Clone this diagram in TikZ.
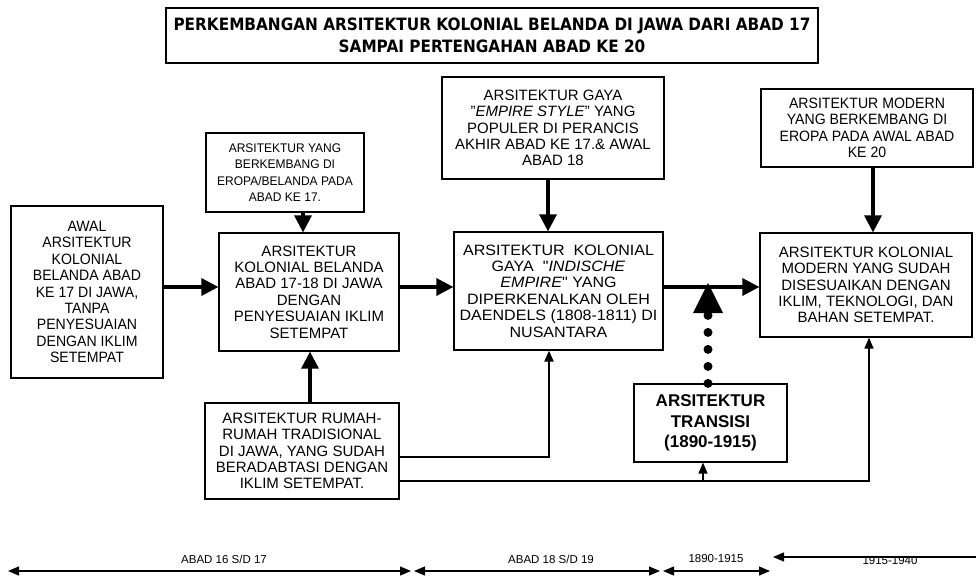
\documentclass[tikz,border=0pt]{standalone}
\usepackage{fontspec}
\setmainfont{Liberation Sans}
\newfontfamily\titlefont[FakeStretch=0.9]{DejaVu Sans}
\newfontfamily\narrowface[FakeStretch=0.94]{Liberation Sans}
\newfontfamily\slimface[FakeStretch=0.96]{Liberation Sans}
\newfontfamily\wideface[FakeStretch=1.07]{Liberation Sans}
\usepackage{tikz}
\usetikzlibrary{arrows.meta, calc, positioning}
\providecommand{\boxfont}{\fontsize{15}{16.4}\selectfont}
\providecommand{\tickfont}{\fontsize{11.5}{13}\selectfont}
\tikzset{
  box/.style={draw, line width=1.2pt, align=center, inner sep=0pt, font=\boxfont},
  flow/.style={line width=3.2pt, -{Triangle[length=17pt, width=17pt]}},
  feed/.style={line width=1.3pt, -{Triangle[length=11pt, width=9pt]}},
  dots/.style={line width=9pt, line cap=round, dash pattern=on 0pt off 17pt,
    -{Triangle[length=30pt, width=30pt, line width=0pt]}},
  span/.style={line width=1.2pt},
  endtip/.tip={Triangle[length=11pt, width=9pt]}
}

\begin{document}
\begin{tikzpicture}[x=1pt, y=-1pt]
	\useasboundingbox (0,0) rectangle (976,576);

	% title
	\node[box, minimum width=652, minimum height=55, font=\titlefont\bfseries\fontsize{17}{22}\selectfont]
		(title) at (492,35.5) {PERKEMBANGAN ARSITEKTUR KOLONIAL BELANDA DI JAWA DARI ABAD 17\\SAMPAI PERTENGAHAN ABAD KE 20};

	% boxes
	\node[box, minimum width=152, minimum height=172, font=\narrowface\boxfont] (A) at (87,292)
		{AWAL\\ARSITEKTUR\\KOLONIAL\\BELANDA ABAD\\KE 17 DI JAWA,\\TANPA\\PENYESUAIAN\\DENGAN IKLIM\\SETEMPAT};
	\node[box, minimum width=158, minimum height=79, font=\slimface\fontsize{12.5}{16.5}\selectfont] (Bt) at (285,172.5)
		{ARSITEKTUR YANG\\BERKEMBANG DI\\EROPA/BELANDA PADA\\ABAD KE 17.};
	\node[box, minimum width=180, minimum height=118] (B) at (309,292)
		{ARSITEKTUR\\KOLONIAL BELANDA\\ABAD 17-18 DI JAWA\\DENGAN\\PENYESUAIAN IKLIM\\SETEMPAT};
	\node[box, minimum width=194, minimum height=96] (D) at (302,451)
		{ARSITEKTUR RUMAH-\\RUMAH TRADISIONAL\\DI JAWA, YANG SUDAH\\BERADABTASI DENGAN\\IKLIM SETEMPAT.};
	\node[box, minimum width=222, minimum height=102] (Ct) at (553,128)
		{ARSITEKTUR GAYA\\"\textit{EMPIRE STYLE}" YANG\\POPULER DI PERANCIS\\AKHIR ABAD KE 17.\& AWAL\\ABAD 18};
	\node[box, minimum width=209, minimum height=118, font=\wideface\boxfont] (C) at (558.5,291)
		{ARSITEKTUR\ \ KOLONIAL\\GAYA\ \ "\textit{INDISCHE}\\\textit{EMPIRE}" YANG\\DIPERKENALKAN OLEH\\DAENDELS (1808-1811) DI\\NUSANTARA};
	\node[box, minimum width=212, minimum height=78, font=\narrowface\boxfont] (Et) at (867,128)
		{ARSITEKTUR MODERN\\YANG BERKEMBANG DI\\EROPA PADA AWAL ABAD\\KE 20};
	\node[box, minimum width=212, minimum height=104] (E) at (866,285)
		{ARSITEKTUR KOLONIAL\\MODERN YANG SUDAH\\DISESUAIKAN DENGAN\\IKLIM, TEKNOLOGI, DAN\\BAHAN SETEMPAT.};
	\node[box, minimum width=153, minimum height=78, font=\bfseries\fontsize{17}{20.5}\selectfont] (T) at (710.5,423)
		{ARSITEKTUR\\TRANSISI\\(1890-1915)};

	% main flow
	\draw[flow] ($(A.east)+(0,-5)$) -- ($(B.west)+(0,-5)$);
	\draw[flow] ($(B.east)+(0,-5)$) -- ($(C.west)+(0,-4)$);
	\draw[flow] ($(C.east)+(0,-4)$) -- ($(E.west)+(0,2)$);

	\draw[flow] ($(Bt.south)+(18,0)$) -- ($(B.north)+(-6,0)$);
	\draw[flow] ($(Ct.south)+(-5,0)$) -- ($(C.north)+(-10.5,0)$);
	\draw[flow] ($(Et.south)+(6,0)$) -- ($(E.north)+(7,0)$);
	\draw[flow] ($(D.north)+(8,0)$) -- ($(B.south)+(1,0)$);

	% links from the traditional houses
	\coordinate (low) at ($(D.east)+(0,30)$);
	\coordinate (tt) at ($(T.south)+(-7.5,0)$);
	\draw[feed, line width=2.2pt] ($(D.east)+(0,6)$) -| ($(C.south)+(-9.5,0)$);
	\draw[feed] (low) -| ($(E.south)+(3,0)$);
	\draw[feed] (tt |- low) -- (tt);

	% transition
	\coordinate (tip) at (708,283);
	\draw[dots] (tip |- T.north) -- (tip);

	% time line
	\coordinate (t0) at (8,571);
	\coordinate (t1) at (411,571);
	\coordinate (t2) at (414,571);
	\coordinate (t3) at (660,571);
	\coordinate (t4) at (663,571);
	\coordinate (t5) at (770,571);
	\coordinate (t6) at (773,557);
	\coordinate (t7) at (976,557);

	\node[font=\tickfont] (l1) at (224,559) {ABAD 16 S/D 17};
	\node[font=\tickfont] (l2) at (551,559) {ABAD 18 S/D 19};
	\node[font=\tickfont] (l3) at (716,559) {1890-1915};
	\node[font=\tickfont] (l4) at (890,561) {1915-1940};

	\draw[span, endtip-endtip] (t0) -- (t1);
	\draw[span, endtip-endtip] (t2) -- (t3);
	\draw[span, endtip-endtip] (t4) -- (t5);
	\draw[span, -endtip] (t7) -- (t6);
\end{tikzpicture}
\end{document}
